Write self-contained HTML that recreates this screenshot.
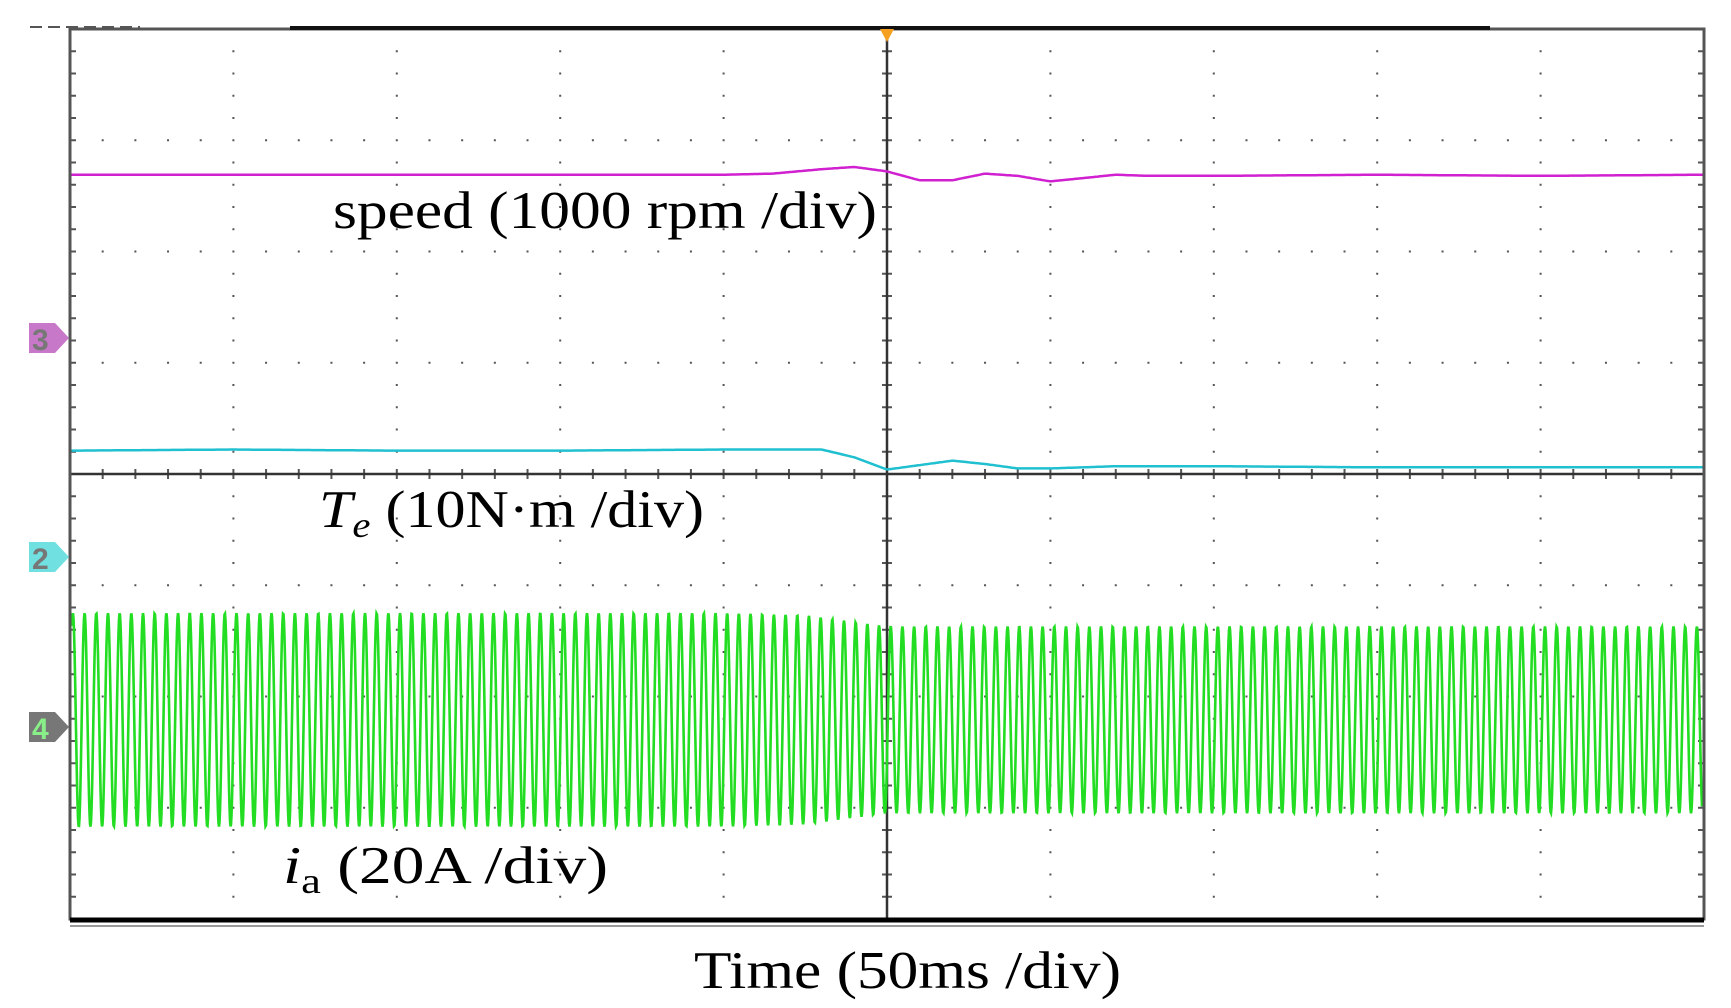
<!DOCTYPE html>
<html><head><meta charset="utf-8"><style>
html,body{margin:0;padding:0;background:#fff;width:1731px;height:1008px;overflow:hidden}
svg{display:block}
svg text{font-family:"Liberation Serif",serif}
</style></head><body>
<svg id="scope" width="1731" height="1008" viewBox="0 0 1731 1008" xmlns="http://www.w3.org/2000/svg">
<g id="grid"></g>
<g id="traces"></g>
<rect x="70" y="29" width="1634" height="890" fill="none" stroke="#555" stroke-width="3"/>
<line x1="70" y1="920" x2="1704" y2="920" stroke="#000" stroke-width="5"/>
<line x1="70" y1="926" x2="1704" y2="926" stroke="#999" stroke-width="2"/>
<line x1="290" y1="28" x2="1490" y2="28" stroke="#111" stroke-width="4"/>
<line x1="30" y1="27" x2="140" y2="27" stroke="#555" stroke-width="2" stroke-dasharray="12 6"/>
<polygon points="880,29 894,29 887,42" fill="#f5a020"/>
<g><polygon points="29,323 55,323 69,338 55,353 29,353" fill="#c878c8"/><text x="32" y="350" style="font-family:'Liberation Sans',sans-serif" font-size="30" font-weight="bold" fill="#777">3</text></g>
<g><polygon points="29,542 55,542 69,557 55,572 29,572" fill="#70e0e0"/><text x="32" y="569" style="font-family:'Liberation Sans',sans-serif" font-size="30" font-weight="bold" fill="#777">2</text></g>
<g><polygon points="29,712 55,712 69,727 55,742 29,742" fill="#777"/><text x="32" y="739" style="font-family:'Liberation Sans',sans-serif" font-size="30" font-weight="bold" fill="#8e8">4</text></g>
<text x="333" y="228" font-size="53" textLength="544" lengthAdjust="spacingAndGlyphs">speed (1000 rpm /div)</text>
<text x="319" y="527" font-size="53" textLength="385" lengthAdjust="spacingAndGlyphs"><tspan font-style="italic">T</tspan><tspan font-style="italic" font-size="36" dy="10">e</tspan><tspan dy="-10"> (10N·m /div)</tspan></text>
<text x="283" y="883" font-size="53" textLength="325" lengthAdjust="spacingAndGlyphs"><tspan font-style="italic">i</tspan><tspan font-size="36" dy="10">a</tspan><tspan dy="-10">  (20A /div)</tspan></text>
<text x="694" y="988" font-size="53" textLength="427" lengthAdjust="spacingAndGlyphs">Time (50ms /div)</text>
</svg>
<script>
const speedTimes=[0,1,2,3,4,4.3,4.6,4.8,5.0,5.2,5.4,5.6,5.8,6.0,6.2,6.4,6.6,7,8,9,10];
const speedValues=[2.69,2.69,2.69,2.69,2.69,2.70,2.74,2.76,2.72,2.64,2.64,2.70,2.68,2.63,2.66,2.69,2.68,2.68,2.69,2.68,2.69];
const torqueTimes=[0,1,2,3,4,4.3,4.6,4.8,5.0,5.2,5.4,5.6,5.8,6.0,6.2,6.4,6.6,7,8,9,10];
const torqueValues=[0.21,0.22,0.21,0.21,0.22,0.22,0.22,0.15,0.04,0.08,0.12,0.09,0.05,0.05,0.06,0.07,0.07,0.07,0.06,0.06,0.06];
const currentEnvTimes=[0,4,4.5,4.9,5.0,10];
const currentEnvAmps=[0.96,0.96,0.94,0.86,0.84,0.84];
const currentOffset=-2.21;
const currentPeriodDiv=0.0715;
const X0=70,X1=1704,Y0=29,Y1=919;
const xs=t=>X0+(X1-X0)*t/10;
const ys=v=>(Y0+Y1)/2-v*(Y1-Y0)/8;
const NS="http://www.w3.org/2000/svg";
const grid=document.getElementById('grid'),tr=document.getElementById('traces');
function interp(ts,vs,t){for(let i=1;i<ts.length;i++){if(t<=ts[i]){const f=(t-ts[i-1])/(ts[i]-ts[i-1]);return vs[i-1]+f*(vs[i]-vs[i-1]);}}return vs[vs.length-1];}
let d='';
for(let i=1;i<10;i++)for(let j=0;j<=40;j++){if(i!==5)d+=`M${xs(i)-1},${ys(4-j/5)}h2`;}
for(let j=1;j<8;j++)for(let i=0;i<=50;i++){if(j!==4)d+=`M${xs(i/5)},${ys(4-j)-1}v2`;}
for(let i=0;i<=50;i++){d+=`M${xs(i/5)},${ys(0)-5}v10`;}
for(let j=0;j<=40;j++){d+=`M${xs(5)-5},${ys(4-j/5)}h10`;}
for(let j=0;j<=40;j++){d+=`M${X0},${ys(4-j/5)}h6M${X1},${ys(4-j/5)}h-6`;}
const gp=document.createElementNS(NS,'path');gp.setAttribute('d',d);gp.setAttribute('stroke','#555');gp.setAttribute('stroke-width','2');


grid.appendChild(gp);
const ax=document.createElementNS(NS,'path');ax.setAttribute('d',`M${X0},${ys(0)}H${X1}M${xs(5)},${Y0}V${Y1}`);ax.setAttribute('stroke','#333');ax.setAttribute('stroke-width','2.5');


grid.appendChild(ax);
function trace(ts,vs,color,name){let p='';for(let x=X0;x<=X1;x+=2){const t=(x-X0)/(X1-X0)*10;p+=(p?'L':'M')+x+','+ys(interp(ts,vs,t)).toFixed(1);}
const el=document.createElementNS(NS,'path');el.setAttribute('d',p);el.setAttribute('fill','none');el.setAttribute('stroke',color);el.setAttribute('stroke-width','2.5');


tr.appendChild(el);}
trace(speedTimes,speedValues,'#d020d0','speed-trace');
trace(torqueTimes,torqueValues,'#20c0d0','torque-trace');
let c='';for(let x=X0+2;x<=X1-2;x+=0.5){const t=(x-X0)/(X1-X0)*10;const a=interp(currentEnvTimes,currentEnvAmps,t);const v=currentOffset+a*Math.sin(2*Math.PI*t/currentPeriodDiv);c+=(c?'L':'M')+x+','+ys(v).toFixed(1);}
const ce=document.createElementNS(NS,'path');ce.setAttribute('d',c);ce.setAttribute('fill','none');ce.setAttribute('stroke','#22dd22');ce.setAttribute('stroke-width','2.6');


tr.appendChild(ce);
</script>
</body></html>
